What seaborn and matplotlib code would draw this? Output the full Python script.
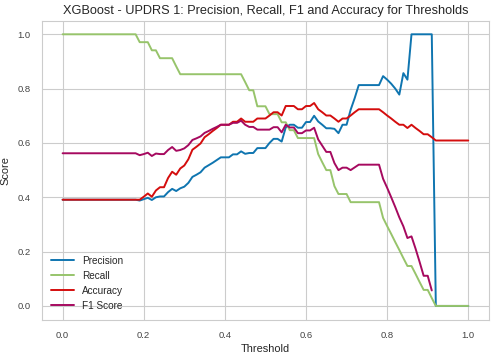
import numpy as np
import pandas as pd
import matplotlib
matplotlib.use("Agg")
import matplotlib.pyplot as plt
import seaborn as sns

# --- Data (one value per threshold step) ---
thresholds = [
    0.00, 0.01, 0.02, 0.03, 0.04, 0.05, 0.06, 0.07, 0.08, 0.09,
    0.10, 0.11, 0.12, 0.13, 0.14, 0.15, 0.16, 0.17, 0.18, 0.19,
    0.20, 0.21, 0.22, 0.23, 0.24, 0.25, 0.26, 0.27, 0.28, 0.29,
    0.30, 0.31, 0.32, 0.33, 0.34, 0.35, 0.36, 0.37, 0.38, 0.39,
    0.40, 0.41, 0.42, 0.43, 0.44, 0.45, 0.46, 0.47, 0.48, 0.49,
    0.50, 0.51, 0.52, 0.53, 0.54, 0.55, 0.56, 0.57, 0.58, 0.59,
    0.60, 0.61, 0.62, 0.63, 0.64, 0.65, 0.66, 0.67, 0.68, 0.69,
    0.70, 0.71, 0.72, 0.73, 0.74, 0.75, 0.76, 0.77, 0.78, 0.79,
    0.80, 0.81, 0.82, 0.83, 0.84, 0.85, 0.86, 0.87, 0.88, 0.89,
    0.90, 0.91, 0.92, 0.93, 0.94, 0.95, 0.96, 0.97, 0.98, 0.99,
    1.00,
]

precision = [
    0.391, 0.391, 0.391, 0.391, 0.391, 0.391, 0.391, 0.391, 0.391, 0.391,
    0.391, 0.391, 0.391, 0.391, 0.391, 0.391, 0.391, 0.391, 0.391, 0.388,
    0.393, 0.398, 0.390, 0.400, 0.403, 0.403, 0.419, 0.431, 0.423, 0.433,
    0.439, 0.453, 0.475, 0.483, 0.492, 0.509, 0.518, 0.527, 0.537, 0.547,
    0.547, 0.547, 0.558, 0.558, 0.569, 0.560, 0.563, 0.563, 0.581, 0.581,
    0.581, 0.600, 0.615, 0.615, 0.605, 0.657, 0.667, 0.667, 0.656, 0.656,
    0.677, 0.677, 0.700, 0.679, 0.667, 0.654, 0.654, 0.652, 0.636, 0.667,
    0.667, 0.722, 0.765, 0.813, 0.813, 0.813, 0.813, 0.813, 0.813, 0.846,
    0.833, 0.818, 0.800, 0.778, 0.857, 0.833, 1.000, 1.000, 1.000, 1.000,
    1.000, 1.000, 0.000, 0.000, 0.000, 0.000, 0.000, 0.000, 0.000, 0.000,
    0.000,
]

recall = [
    1.000, 1.000, 1.000, 1.000, 1.000, 1.000, 1.000, 1.000, 1.000, 1.000,
    1.000, 1.000, 1.000, 1.000, 1.000, 1.000, 1.000, 1.000, 1.000, 0.971,
    0.971, 0.971, 0.941, 0.941, 0.912, 0.912, 0.912, 0.912, 0.882, 0.853,
    0.853, 0.853, 0.853, 0.853, 0.853, 0.853, 0.853, 0.853, 0.853, 0.853,
    0.853, 0.853, 0.853, 0.853, 0.853, 0.824, 0.794, 0.794, 0.735, 0.735,
    0.735, 0.706, 0.706, 0.706, 0.676, 0.676, 0.647, 0.647, 0.618, 0.618,
    0.618, 0.618, 0.618, 0.559, 0.529, 0.500, 0.500, 0.441, 0.412, 0.412,
    0.412, 0.382, 0.382, 0.382, 0.382, 0.382, 0.382, 0.382, 0.382, 0.324,
    0.294, 0.265, 0.235, 0.206, 0.176, 0.147, 0.147, 0.118, 0.088, 0.059,
    0.059, 0.029, 0.000, 0.000, 0.000, 0.000, 0.000, 0.000, 0.000, 0.000,
    0.000,
]

accuracy = [
    0.391, 0.391, 0.391, 0.391, 0.391, 0.391, 0.391, 0.391, 0.391, 0.391,
    0.391, 0.391, 0.391, 0.391, 0.391, 0.391, 0.391, 0.391, 0.391, 0.391,
    0.402, 0.414, 0.402, 0.425, 0.437, 0.437, 0.471, 0.494, 0.483, 0.506,
    0.517, 0.540, 0.575, 0.586, 0.598, 0.621, 0.632, 0.644, 0.655, 0.667,
    0.667, 0.667, 0.678, 0.678, 0.690, 0.678, 0.678, 0.678, 0.690, 0.690,
    0.690, 0.701, 0.713, 0.713, 0.701, 0.736, 0.736, 0.736, 0.724, 0.724,
    0.736, 0.736, 0.747, 0.724, 0.713, 0.701, 0.701, 0.690, 0.678, 0.690,
    0.690, 0.701, 0.713, 0.724, 0.724, 0.724, 0.724, 0.724, 0.724, 0.713,
    0.701, 0.690, 0.678, 0.667, 0.667, 0.655, 0.667, 0.655, 0.644, 0.632,
    0.632, 0.621, 0.609, 0.609, 0.609, 0.609, 0.609, 0.609, 0.609, 0.609,
    0.609,
]

# F1 is undefined once nothing is predicted positive (threshold >= 0.92)
f1_score = [
    0.562, 0.562, 0.562, 0.562, 0.562, 0.562, 0.562, 0.562, 0.562, 0.562,
    0.562, 0.562, 0.562, 0.562, 0.562, 0.562, 0.562, 0.562, 0.562, 0.555,
    0.559, 0.564, 0.552, 0.561, 0.559, 0.559, 0.574, 0.585, 0.571, 0.574,
    0.580, 0.592, 0.611, 0.617, 0.624, 0.637, 0.644, 0.652, 0.659, 0.667,
    0.667, 0.667, 0.674, 0.674, 0.682, 0.667, 0.659, 0.659, 0.649, 0.649,
    0.649, 0.649, 0.658, 0.658, 0.639, 0.667, 0.657, 0.657, 0.636, 0.636,
    0.646, 0.646, 0.656, 0.613, 0.590, 0.567, 0.567, 0.526, 0.500, 0.509,
    0.509, 0.500, 0.510, 0.520, 0.520, 0.520, 0.520, 0.520, 0.520, 0.468,
    0.435, 0.400, 0.364, 0.326, 0.293, 0.250, 0.256, 0.211, 0.162, 0.111,
    0.111, 0.057, np.nan, np.nan, np.nan, np.nan, np.nan, np.nan, np.nan, np.nan,
    np.nan,
]

series_labels = ["Precision", "Recall", "Accuracy", "F1 Score"]
series_colors = ["#0f75b0", "#97c46b", "#d40d0d", "#a6095f"]

# --- Build a long table for seaborn ---
frames = []
for label, values in zip(series_labels, [precision, recall, accuracy, f1_score]):
    frames.append(pd.DataFrame({"Threshold": thresholds, "Score": values, "Metric": label}))
df = pd.concat(frames, ignore_index=True).dropna()

# --- Plot ---
sns.set_style("whitegrid")
plt.rcParams["font.family"] = ["Liberation Sans", "DejaVu Sans"]

fig, ax = plt.subplots(figsize=(4.95, 3.57), dpi=100)
fig.subplots_adjust(left=0.0855, right=0.987, bottom=0.105, top=0.942)

sns.lineplot(data=df, x="Threshold", y="Score", hue="Metric",
             hue_order=series_labels, palette=series_colors,
             estimator=None, linewidth=1.4, ax=ax)

ax.set_xlim(-0.05, 1.05)
ax.set_ylim(-0.05, 1.05)
ax.set_xticks([0.0, 0.2, 0.4, 0.6, 0.8, 1.0])
ax.set_yticks([0.0, 0.2, 0.4, 0.6, 0.8, 1.0])
ax.tick_params(labelsize=6.8, pad=5, labelcolor="#444444")
ax.set_title("XGBoost - UPDRS 1: Precision, Recall, F1 and Accuracy for Thresholds",
             fontsize=9.2, pad=5)
ax.set_xlabel("Threshold", fontsize=7.9, labelpad=3)
ax.set_ylabel("Score", fontsize=7.9, labelpad=5)
ax.legend(loc="lower left", frameon=False, fontsize=7.2, handlelength=2.3)

for spine in ax.spines.values():
    spine.set_color("#cccccc")

plt.savefig("out.png", dpi=100)
plt.close()
